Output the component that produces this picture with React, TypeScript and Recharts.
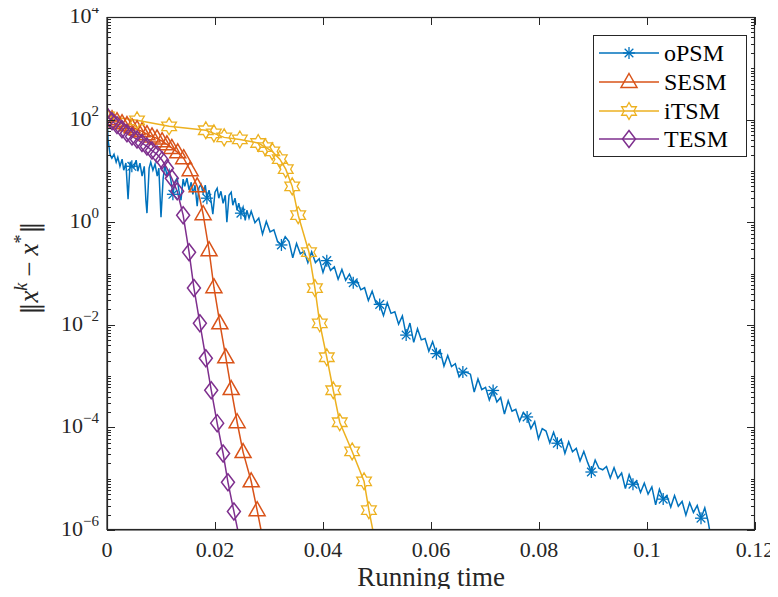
import React from 'react';
import { LineChart, Line, XAxis, YAxis, Legend, Label } from 'recharts';

const FONT = '"Liberation Serif", "Times New Roman", serif';
const AXIS_COLOR = '#262626';

const seriesNames = ['oPSM', 'SESM', 'iTSM', 'TESM'];
const seriesColors = ['#0072BD', '#D95319', '#EDB120', '#7E2F8E'];
const seriesMarkers = ['asterisk', 'triangle', 'hexagram', 'diamond'];

const xTickValues = [0, 0.02, 0.04, 0.06, 0.08, 0.1, 0.12];
const xTickLabels = ['0', '0.02', '0.04', '0.06', '0.08', '0.1', '0.12'];
const yLabelValues = [1e-6, 1e-4, 1e-2, 1, 1e2, 1e4];
const yLabelSups = ['\u22126', '\u22124', '\u22122', '0', '2', '4'];
const yDecades = [-6, -5, -4, -3, -2, -1, 0, 1, 2, 3];
const X_MIN = 0;
const X_MAX = 0.12;
const Y_MIN = 1e-6;
const Y_MAX = 1e4;

// [running time, ||x^k - x*||]
const oPSM: [number, number][] = [
  [0, 111], [0.0002, 39.7], [0.0006, 20.2], [0.0009, 17.7], [0.0013, 21.1], [0.0017, 14.8],
  [0.002, 18.5], [0.0024, 12.3], [0.0028, 16.9], [0.0031, 10.3], [0.0035, 14.2], [0.0039, 2.8],
  [0.0043, 15.0], [0.0046, 12.3], [0.005, 11.8], [0.0054, 16.2], [0.0057, 9.85], [0.0061, 14.2],
  [0.0065, 7.9], [0.0069, 12.3], [0.0072, 2.68], [0.0074, 1.5], [0.0078, 11.3], [0.0081, 14.8],
  [0.0085, 10.3], [0.0089, 13.5], [0.0093, 7.9], [0.0096, 11.3], [0.01, 1.25], [0.0104, 7.2],
  [0.0107, 12.9], [0.0111, 8.25], [0.0115, 10.3], [0.0119, 6.0], [0.0122, 3.5], [0.0126, 6.2],
  [0.013, 7.2], [0.0133, 4.21], [0.0137, 2.68], [0.0141, 6.9], [0.0144, 5.0], [0.0148, 7.2],
  [0.0152, 4.21], [0.0156, 6.0], [0.0159, 3.5], [0.0163, 5.26], [0.0167, 2.05], [0.017, 4.6],
  [0.0174, 5.5], [0.0178, 3.7], [0.0182, 5.26], [0.0185, 2.94], [0.0189, 4.21], [0.0193, 2.45],
  [0.0196, 1.43], [0.02, 3.85], [0.0204, 4.6], [0.0207, 2.94], [0.0211, 4.0], [0.0215, 2.34],
  [0.0219, 3.36], [0.0222, 1.0], [0.0226, 3.36], [0.023, 3.85], [0.0233, 2.14], [0.0237, 2.94],
  [0.0241, 1.71], [0.0244, 2.34], [0.0248, 1.5], [0.0252, 1.96], [0.0256, 1.09], [0.0259, 1.71],
  [0.0263, 1.2],
  [0.0267, 1.64], [0.0274, 0.98], [0.0281, 1.2], [0.0288, 0.585], [0.0295, 1.035], [0.0302, 0.649],
  [0.0309, 0.708], [0.0316, 0.414], [0.0323, 0.36], [0.033, 0.52], [0.0337, 0.42], [0.0344, 0.203],
  [0.0351, 0.385], [0.0358, 0.242], [0.0365, 0.272], [0.0372, 0.163], [0.0379, 0.264], [0.0386, 0.163],
  [0.0393, 0.195], [0.04, 0.105], [0.0407, 0.178], [0.0414, 0.115], [0.0421, 0.135], [0.0428, 0.0773],
  [0.0435, 0.12], [0.0442, 0.0736], [0.0449, 0.0968], [0.0456, 0.066], [0.0463, 0.072], [0.047, 0.0481],
  [0.0477, 0.0528], [0.0484, 0.0298], [0.0491, 0.0453], [0.0498, 0.0267], [0.0505, 0.025], [0.0512, 0.0151],
  [0.0519, 0.027], [0.0526, 0.0167], [0.0533, 0.0179], [0.054, 0.0103], [0.0547, 0.0149], [0.0554, 0.0063],
  [0.0561, 0.0108], [0.0568, 0.00455], [0.0575, 0.00836], [0.0582, 0.00509], [0.0589, 0.0054], [0.0596, 0.00307],
  [0.0603, 0.0047], [0.061, 0.00274], [0.0617, 0.0031], [0.0624, 0.00157], [0.0631, 0.00252], [0.0638, 0.00153],
  [0.0645, 0.00174], [0.0652, 0.000964], [0.0659, 0.0012], [0.0666, 0.00118], [0.0673, 0.00109], [0.068, 0.00049],
  [0.0687, 0.000879], [0.0694, 0.000547], [0.0701, 0.000605], [0.0708, 0.000344], [0.0715, 0.000525], [0.0722, 0.000312],
  [0.0729, 0.000383], [0.0736, 0.000182], [0.0743, 0.00033], [0.075, 0.000207], [0.0757, 0.000226], [0.0764, 0.000133],
  [0.0771, 0.000196], [0.0778, 0.00016], [0.0785, 0.000095], [0.0792, 0.00013], [0.0799, 0.00006], [0.0806, 0.000095],
  [0.0813, 0.000085], [0.082, 0.00005], [0.0827, 0.0000805], [0.0834, 0.0000492], [0.0841, 0.0000586], [0.0848, 0.0000312],
  [0.0855, 0.0000525], [0.0862, 0.0000336], [0.0869, 0.000039], [0.0876, 0.0000222], [0.0883, 0.0000341], [0.089, 0.0000208],
  [0.0897, 0.0000135], [0.0904, 0.000023], [0.0911, 0.000016], [0.0918, 0.0000149], [0.0925, 0.0000173], [0.0932, 0.0000103],
  [0.0939, 0.0000164], [0.0946, 0.0000102], [0.0953, 0.0000129], [0.096, 0.0000064], [0.0967, 0.000012], [0.0974, 0.0000078],
  [0.0981, 0.0000088], [0.0988, 0.0000054], [0.0995, 0.0000082], [0.1002, 0.000005], [0.1009, 0.0000069], [0.1016, 0.0000031],
  [0.1023, 0.0000062], [0.103, 0.000004], [0.1037, 0.0000046], [0.1044, 0.0000028], [0.1051, 0.0000047], [0.1058, 0.0000029],
  [0.1065, 0.0000036], [0.1072, 0.00000195], [0.1079, 0.0000034], [0.1086, 0.0000022], [0.1093, 0.000003], [0.11, 0.0000017],
  [0.1107, 0.0000027], [0.1113, 0.0000015], [0.1119, 0.00000065],
];
const oPSMMarkerTimes = [
  0.0046, 0.0122, 0.0185, 0.0248, 0.0323, 0.0407, 0.0456, 0.0505, 0.0554, 0.061,
  0.0659, 0.0715, 0.0778, 0.0834, 0.0897, 0.0974, 0.103, 0.11,
];

const SESM: [number, number][] = [
  [0, 116], [0.00093, 102], [0.00185, 93], [0.00278, 85], [0.0037, 78], [0.00463, 71],
  [0.00556, 65], [0.00648, 59], [0.0074, 52], [0.00833, 47], [0.00926, 43], [0.0102, 38],
  [0.0111, 33], [0.012, 28], [0.0131, 23], [0.0142, 17.7], [0.0154, 10.3], [0.0167, 5.0],
  [0.0178, 1.43], [0.0189, 0.284], [0.0198, 0.054], [0.0209, 0.0107], [0.022, 0.00233],
  [0.023, 0.00056], [0.0241, 0.000126], [0.0252, 0.000033], [0.0267, 0.0000089],
  [0.0278, 0.00000243], [0.0289, 0.00000063],
];

const iTSM: [number, number][] = [
  [0, 116], [0.00556, 97], [0.0115, 74], [0.0183, 62], [0.0198, 54], [0.0217, 45],
  [0.0246, 41], [0.028, 35], [0.0293, 29], [0.0306, 24], [0.032, 16.9], [0.0331, 10.8],
  [0.0343, 5.0], [0.0354, 1.37], [0.0374, 0.26], [0.0385, 0.052], [0.0394, 0.0107],
  [0.0407, 0.00233], [0.0419, 0.00053], [0.0431, 0.000126], [0.0454, 0.000034],
  [0.0476, 0.0000089], [0.0485, 0.00000243], [0.0496, 0.00000063],
];

const TESM: [number, number][] = [
  [0, 116], [0.00093, 93], [0.00185, 78], [0.00278, 65], [0.0037, 54], [0.00463, 47],
  [0.00556, 41], [0.00648, 35], [0.0074, 30], [0.00833, 25], [0.00926, 21], [0.0102, 16.2],
  [0.0111, 11.3], [0.012, 7.2], [0.013, 4.0], [0.0141, 1.37], [0.0152, 0.26], [0.0161, 0.052],
  [0.0172, 0.0107], [0.0183, 0.00223], [0.0193, 0.00053], [0.0204, 0.000121], [0.0215, 0.000031],
  [0.0224, 0.0000085], [0.0235, 0.0000023], [0.0246, 0.00000063],
];

const toRows = (arr: [number, number][]) => arr.map(([t, v]) => ({ t, v }));
const allSeries = [oPSM, SESM, iTSM, TESM].map(toRows);

const yAllTicks: number[] = [];
yDecades.forEach((e) => {
  for (let m = 1; m <= 9; m++) yAllTicks.push(m * Math.pow(10, e));
});
yAllTicks.push(Y_MAX);

function labelIndex(v: number) {
  return yLabelValues.findIndex((lv) => Math.abs(v - lv) / lv < 1e-6);
}

// chart geometry
const CHART_W = 778;
const CHART_H = 597;
const MARGIN = { top: 17, right: 23, bottom: 0, left: 0 };
const Y_AXIS_W = 107;
const X_AXIS_H = 67;
const PLOT_L = MARGIN.left + Y_AXIS_W;
const PLOT_T = MARGIN.top;
const PLOT_R = CHART_W - MARGIN.right;
const PLOT_B = CHART_H - MARGIN.bottom - X_AXIS_H;
const xPos = (t: number) => PLOT_L + ((t - X_MIN) / (X_MAX - X_MIN)) * (PLOT_R - PLOT_L);
const yPos = (v: number) =>
  PLOT_T + ((Math.log10(Y_MAX) - Math.log10(v)) / (Math.log10(Y_MAX) - Math.log10(Y_MIN))) * (PLOT_B - PLOT_T);

const LEGEND_X = 593;
const LEGEND_Y = 35;

function Marker({ kind, cx, cy, color }: { kind: string; cx: number; cy: number; color: string }) {
  const sw = 1.5;
  if (kind === 'asterisk') {
    const r = 6;
    const d = r * 0.72;
    return (
      <g stroke={color} strokeWidth={1.3} fill="none">
        <line x1={cx - r} y1={cy} x2={cx + r} y2={cy} />
        <line x1={cx} y1={cy - r} x2={cx} y2={cy + r} />
        <line x1={cx - d} y1={cy - d} x2={cx + d} y2={cy + d} />
        <line x1={cx - d} y1={cy + d} x2={cx + d} y2={cy - d} />
      </g>
    );
  }
  if (kind === 'triangle') {
    return (
      <path
        d={`M${cx},${cy - 8.5} L${cx + 8},${cy + 5.5} L${cx - 8},${cy + 5.5} Z`}
        fill="none" stroke={color} strokeWidth={sw} strokeLinejoin="miter"
      />
    );
  }
  if (kind === 'diamond') {
    return (
      <path
        d={`M${cx},${cy - 8.5} L${cx + 6.5},${cy} L${cx},${cy + 8.5} L${cx - 6.5},${cy} Z`}
        fill="none" stroke={color} strokeWidth={sw}
      />
    );
  }
  const R = 8.5;
  const r = R / Math.sqrt(3);
  const pts: string[] = [];
  for (let i = 0; i < 12; i++) {
    const a = ((-90 + i * 30) * Math.PI) / 180;
    const rad = i % 2 === 0 ? R : r;
    pts.push(`${(cx + rad * Math.cos(a)).toFixed(2)},${(cy + rad * Math.sin(a)).toFixed(2)}`);
  }
  return <polygon points={pts.join(' ')} fill="none" stroke={color} strokeWidth={1.3} />;
}

const makeDot = (idx: number, only?: number[]) => (props: any) => {
  const { cx, cy, payload, index } = props;
  const key = `d-${idx}-${index}`;
  if (cx == null || cy == null || !isFinite(cx) || !isFinite(cy)) return <g key={key} />;
  if (only && !only.some((t) => Math.abs(t - payload.t) < 1e-9)) return <g key={key} />;
  return (
    <g key={key}>
      <Marker kind={seriesMarkers[idx]} cx={cx} cy={cy} color={seriesColors[idx]} />
    </g>
  );
};

function LeftTick(props: any) {
  const x = Number(props.x);
  const y = Number(props.y);
  const li = labelIndex(Number(props.payload.value));
  if (li < 0) return <g />;
  return (
    <text x={x} y={y + 6} textAnchor="end" fontFamily={FONT} fontSize={22} fill={AXIS_COLOR}>
      10<tspan dy={-10} fontSize={15}>{yLabelSups[li]}</tspan>
    </text>
  );
}

function BottomTick(props: any) {
  const x = Number(props.x);
  const y = Number(props.y);
  const i = xTickValues.findIndex((t) => Math.abs(t - Number(props.payload.value)) < 1e-9);
  return (
    <text x={x} y={y + 27} textAnchor="middle" fontFamily={FONT} fontSize={22} fill={AXIS_COLOR}>
      {xTickLabels[i >= 0 ? i : props.index]}
    </text>
  );
}

function XLabelContent(props: any) {
  const vb = props.viewBox || {};
  const cx = vb.x + vb.width / 2;
  return (
    <text x={cx} y={vb.y + 56} textAnchor="middle" fontFamily={FONT} fontSize={27} fill={AXIS_COLOR}>
      Running time
    </text>
  );
}

function YLabelContent() {
  const cx = 38;
  const cy = 268;
  return (
    <text
      x={cx}
      y={cy}
      transform={`rotate(-90, ${cx}, ${cy})`}
      textAnchor="middle"
      fontFamily={FONT}
      fontSize={27}
      fill={AXIS_COLOR}
    >
      <tspan fontFamily='"DejaVu Serif", serif' fontSize={24}>{'\u2016'}</tspan>
      <tspan fontStyle="italic">x</tspan>
      <tspan dy={-11} fontSize={18} fontStyle="italic">k</tspan>
      <tspan dy={11} dx={6}>{'\u2212'}</tspan>
      <tspan dx={6} fontStyle="italic">x</tspan>
      <tspan dy={-11} fontSize={18}>*</tspan>
      <tspan dy={11} dx={1} fontFamily='"DejaVu Serif", serif' fontSize={24}>{'\u2016'}</tspan>
    </text>
  );
}

// Legend box plus the axis box and inward tick marks (placed from the tick values).
function LegendAndFrame() {
  const rows = [18, 47, 76, 104];
  const marks: React.ReactNode[] = [];
  yAllTicks.forEach((v, i) => {
    const y = Math.round(yPos(v)) + 0.5;
    const len = labelIndex(v) >= 0 ? 8 : 4;
    marks.push(
      <path key={`yl${i}`} d={`M${PLOT_L},${y}H${PLOT_L + len}`} stroke={AXIS_COLOR} strokeWidth={1} fill="none" />,
      <path key={`yr${i}`} d={`M${PLOT_R},${y}H${PLOT_R - len}`} stroke={AXIS_COLOR} strokeWidth={1} fill="none" />,
    );
  });
  xTickValues.forEach((t, i) => {
    const x = Math.round(xPos(t)) + 0.5;
    marks.push(
      <path key={`xb${i}`} d={`M${x},${PLOT_B}V${PLOT_B - 8}`} stroke={AXIS_COLOR} strokeWidth={1} fill="none" />,
      <path key={`xt${i}`} d={`M${x},${PLOT_T}V${PLOT_T + 8}`} stroke={AXIS_COLOR} strokeWidth={1} fill="none" />,
    );
  });
  return (
    <svg width={CHART_W} height={CHART_H} style={{ display: 'block', pointerEvents: 'none' }}>
      <rect
        x={PLOT_L + 0.5}
        y={PLOT_T + 0.5}
        width={PLOT_R - PLOT_L - 1}
        height={PLOT_B - PLOT_T - 1}
        fill="none"
        stroke={AXIS_COLOR}
        strokeWidth={1.2}
      />
      {marks}
      <g transform={`translate(${LEGEND_X}, ${LEGEND_Y})`}>
        <rect x={0.5} y={0.5} width={153} height={121} fill="#ffffff" stroke={AXIS_COLOR} strokeWidth={1} />
        {seriesNames.map((name, i) => (
          <g key={name}>
            <line x1={6} x2={66} y1={rows[i]} y2={rows[i]} stroke={seriesColors[i]} strokeWidth={1.5} />
            <Marker kind={seriesMarkers[i]} cx={36} cy={rows[i]} color={seriesColors[i]} />
            <text x={71} y={rows[i] + 8} fontFamily={FONT} fontSize={24} fill="#000000">
              {name}
            </text>
          </g>
        ))}
      </g>
    </svg>
  );
}

export default function App() {
  return (
    <div style={{ margin: -8, width: CHART_W, height: CHART_H, position: 'relative', background: '#ffffff' }}>
      <LineChart width={CHART_W} height={CHART_H} margin={MARGIN}>
        <XAxis
          xAxisId="b"
          dataKey="t"
          type="number"
          domain={[X_MIN, X_MAX]}
          allowDataOverflow
          ticks={xTickValues}
          interval={0}
          height={X_AXIS_H}
          tickSize={0}
          tickMargin={0}
          tickLine={false}
          tick={<BottomTick />}
          axisLine={{ stroke: AXIS_COLOR, strokeWidth: 1.2 }}
        >
          <Label content={<XLabelContent />} />
        </XAxis>
        <YAxis
          yAxisId="l"
          type="number"
          scale="log"
          domain={[Y_MIN, Y_MAX]}
          allowDataOverflow
          ticks={yAllTicks}
          interval={0}
          width={Y_AXIS_W}
          tickSize={0}
          tickMargin={8}
          tickLine={false}
          tick={<LeftTick />}
          axisLine={{ stroke: AXIS_COLOR, strokeWidth: 1.2 }}
        >
          <Label content={<YLabelContent />} />
        </YAxis>
        {allSeries.map((rows, i) => (
          <Line
            key={seriesNames[i]}
            name={seriesNames[i]}
            data={rows}
            dataKey="v"
            xAxisId="b"
            yAxisId="l"
            type="linear"
            stroke={seriesColors[i]}
            strokeWidth={1.5}
            dot={makeDot(i, i === 0 ? oPSMMarkerTimes : undefined)}
            activeDot={false}
            isAnimationActive={false}
          />
        ))}
        <Legend
          layout="horizontal"
          verticalAlign="middle"
          align="center"
          content={<LegendAndFrame />}
          wrapperStyle={{ position: 'absolute', left: 0, top: 0, width: CHART_W, height: CHART_H, pointerEvents: 'none' }}
        />
      </LineChart>
    </div>
  );
}
